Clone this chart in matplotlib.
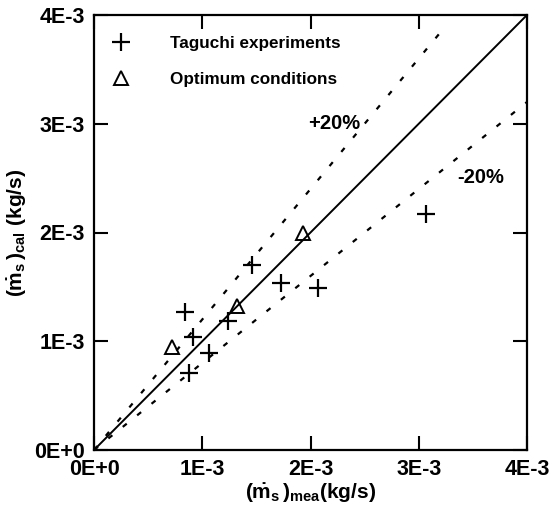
import matplotlib
matplotlib.use("Agg")
import matplotlib.pyplot as plt
import numpy as np

plt.rcParams['font.family'] = ['Liberation Sans', 'DejaVu Sans']
plt.rcParams['font.weight'] = 'bold'
plt.rcParams['mathtext.fontset'] = 'custom'
plt.rcParams['mathtext.rm'] = 'Liberation Sans:bold'
plt.rcParams['mathtext.it'] = 'Liberation Sans:bold'
plt.rcParams['mathtext.bf'] = 'Liberation Sans:bold'

# Data (kg/s)
taguchi_mea = [1.457e-3, 1.725e-3, 2.072e-3, 0.841e-3, 1.235e-3, 0.912e-3, 1.062e-3, 0.880e-3, 3.067e-3]
taguchi_cal = [1.701e-3, 1.533e-3, 1.487e-3, 1.272e-3, 1.189e-3, 1.042e-3, 0.889e-3, 0.711e-3, 2.167e-3]
optimum_mea = [0.718e-3, 1.318e-3, 1.928e-3]
optimum_cal = [0.944e-3, 1.324e-3, 1.993e-3]

tick_vals = [0, 1e-3, 2e-3, 3e-3, 4e-3]
tick_labels = ['0E+0', '1E-3', '2E-3', '3E-3', '4E-3']

fig = plt.figure(figsize=(5.52, 5.14), dpi=100)
ax = fig.add_axes([94/552, 1-450/514, 433/552, 435/514])

# reference lines
dash = (0, (2.3, 6.0))
x_line = np.array([0, 4e-3])
ax.plot(x_line, x_line, color='black', lw=1.4, zorder=2)
x_up = np.array([0, 3.2e-3])
ax.plot(x_up, 1.2 * x_up, color='black', lw=1.6, ls=dash, zorder=2)
ax.plot(x_line, 0.8 * x_line, color='black', lw=1.6, ls=dash, zorder=2)

ax.plot(taguchi_mea, taguchi_cal, ls='none', marker='+', ms=13, mew=1.6,
        color='black', label='Taguchi experiments', zorder=3)
ax.plot(optimum_mea, optimum_cal, ls='none', marker='^', ms=10, mew=1.4,
        mfc='none', mec='black', label='Optimum conditions', zorder=3)

ax.text(2.217e-3, 3.0e-3, '+20%', fontsize=14.5, fontweight='bold', ha='center', va='center')
ax.text(3.575e-3, 2.51e-3, '-20%', fontsize=14.5, fontweight='bold', ha='center', va='center')

ax.set_xlim(0, 4e-3)
ax.set_ylim(0, 4e-3)
ax.set_xticks(tick_vals)
ax.set_xticklabels(tick_labels)
ax.set_yticks(tick_vals)
ax.set_yticklabels(tick_labels)
ax.tick_params(direction='in', length=10, width=1.5, top=True, right=True,
               labelsize=15.5, pad=6.5)
for lab in ax.get_xticklabels() + ax.get_yticklabels():
    lab.set_fontweight('bold')
for s in ax.spines.values():
    s.set_linewidth(1.6)

ax.set_xlabel(r'$(\dot{\mathrm{m}}_{\mathrm{s}}\,)_{\mathrm{mea}}\mathrm{(kg/s)}$', fontsize=15, labelpad=1)
ax.set_ylabel(r'$(\dot{\mathrm{m}}_{\mathrm{s}}\,)_{\mathrm{cal}}\ \mathrm{(kg/s)}$', fontsize=15, labelpad=4)

leg = ax.legend(loc='upper left', frameon=False, fontsize=12.3, handlelength=1.5,
                handletextpad=2.1, labelspacing=1.25, borderpad=0, borderaxespad=0,
                bbox_to_anchor=(108.5/552, 1-36/514), bbox_transform=fig.transFigure)
for t in leg.get_texts():
    t.set_fontweight('bold')

fig.savefig('out.png', dpi=100)
